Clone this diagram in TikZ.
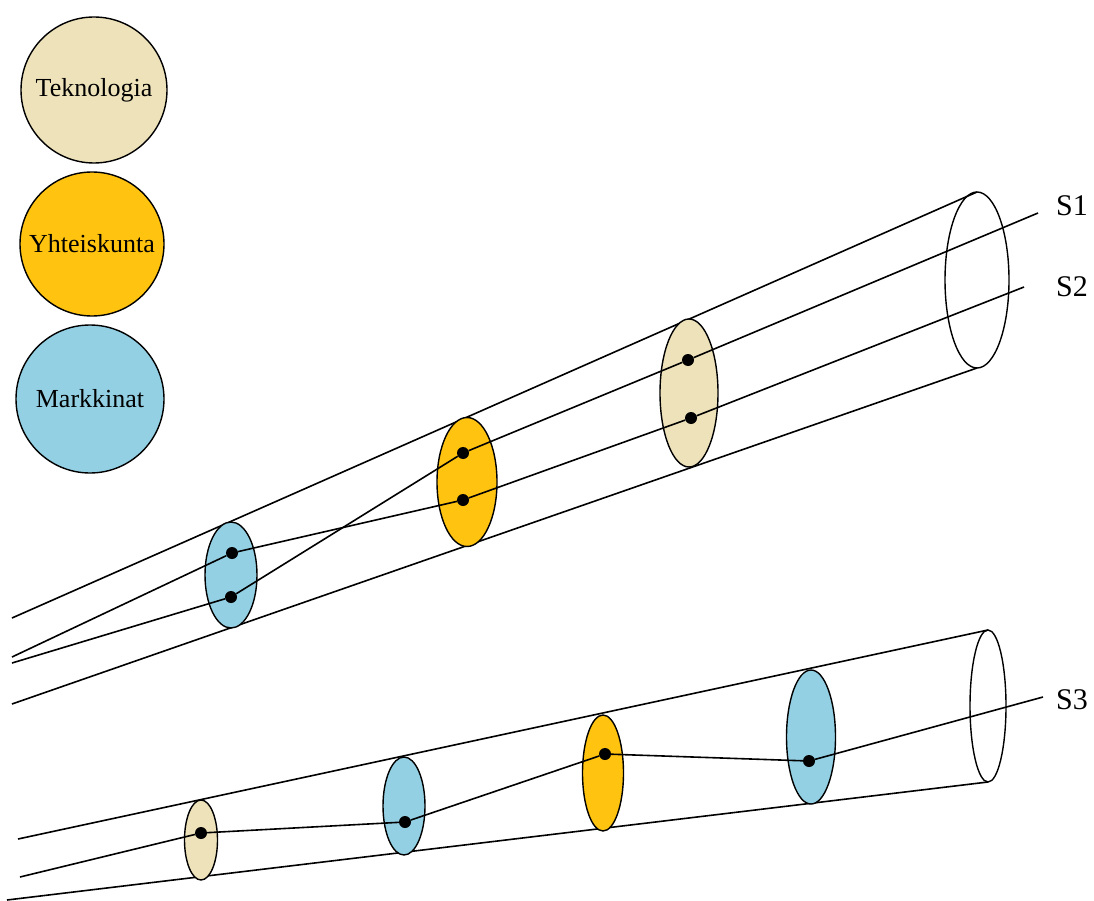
\documentclass[tikz,border=0pt]{standalone}
\usepackage{fontspec}
\setmainfont{Liberation Serif}
\usetikzlibrary{shapes.geometric}
\definecolor{tek}{RGB}{238,226,186}
\definecolor{yht}{RGB}{255,195,16}
\definecolor{mar}{RGB}{147,208,228}
\tikzset{
  ln/.style={line width=1.6pt, black},
  disc/.style={ellipse, draw=black, line width=1.4pt, inner sep=0pt, outer sep=0pt},
  legend/.style={circle, draw=black, line width=1.4pt, inner sep=0pt, outer sep=0pt, font=\fontsize{26}{28}\selectfont},
  dot/.style={circle, fill=black, inner sep=0pt, minimum size=12pt},
  slabel/.style={font=\fontsize{30}{32}\selectfont, anchor=center}
}
\begin{document}
\begin{tikzpicture}[x=1pt,y=-1pt]
\useasboundingbox[fill=white] (0,0) rectangle (1094,901);
% legend
\node[legend, fill=tek, minimum size=146pt] (lt) at (94,90) {Teknologia};
\node[legend, fill=yht, minimum size=144pt] (ly) at (92,244) {Yhteiskunta};
\node[legend, fill=mar, minimum size=148pt] (lm) at (90,399) {Markkinat};

% ---- top cylinder ----
\coordinate (tl) at (12,618);
\coordinate (bl) at (12,704);
\coordinate (a1) at (12,657);
\coordinate (a2) at (12,663);
\coordinate (s1e) at (1038,213);
\coordinate (s2e) at (1024,287);
\node[disc, minimum width=64pt, minimum height=176pt] (e1) at (977,280) {};
\draw[ln] (tl) -- (e1.north);
\draw[ln] (bl) -- (e1.south);
\node[disc, fill=mar, minimum width=52pt, minimum height=106pt] (b1) at (231,575) {};
\node[disc, fill=yht, minimum width=60pt, minimum height=129pt] (y1) at (467,482) {};
\node[disc, fill=tek, minimum width=58pt, minimum height=148pt] (t1) at (689,393) {};
\node[dot] (bu) at (232,553) {};
\node[dot] (bd) at (231,597) {};
\node[dot] (yu) at (463,453) {};
\node[dot] (yd) at (463,500) {};
\node[dot] (tu) at (688,360) {};
\node[dot] (td) at (691,418) {};
\draw[ln] (a1) -- (bu) -- (yd) -- (td) -- (s2e);
\draw[ln] (a2) -- (bd) -- (yu) -- (tu) -- (s1e);
\node[slabel] (S1) at (1072,206) {S1};
\node[slabel] (S2) at (1072,287) {S2};

% ---- bottom cylinder ----
\coordinate (tl2) at (18,839);
\coordinate (bl2) at (7,900);
\coordinate (a3) at (20,877);
\coordinate (s3e) at (1043,697);
\node[disc, minimum width=36pt, minimum height=152pt] (e2) at (988,706) {};
\draw[ln] (tl2) -- (e2.north);
\draw[ln] (bl2) -- (e2.south);
\node[disc, fill=tek, minimum width=33pt, minimum height=80pt] (t2) at (201,840) {};
\node[disc, fill=mar, minimum width=42pt, minimum height=98pt] (b2) at (404,806) {};
\node[disc, fill=yht, minimum width=41pt, minimum height=116pt] (y2) at (603,773) {};
\node[disc, fill=mar, minimum width=49pt, minimum height=134pt] (b3) at (811,737) {};
\node[dot] (d1) at (201,833) {};
\node[dot] (d2) at (405,822) {};
\node[dot] (d3) at (605,754) {};
\node[dot] (d4) at (809,761) {};
\draw[ln] (a3) -- (d1) -- (d2) -- (d3) -- (d4) -- (s3e);
\node[slabel] (S3) at (1072,700) {S3};
\end{tikzpicture}
\end{document}
